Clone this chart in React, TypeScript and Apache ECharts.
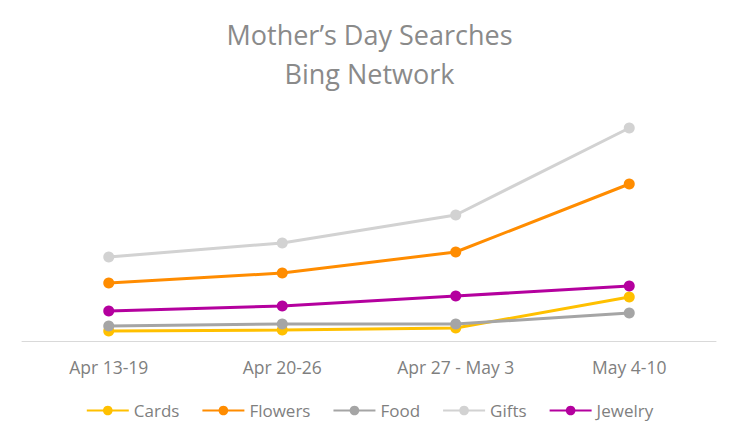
import { useEffect, useRef } from "react";
import * as echarts from "echarts";

const weeks = ["Apr 13-19", "Apr 20-26", "Apr 27 - May 3", "May 4-10"];
const cards = [10, 11, 13, 44];
const flowers = [58, 68, 89, 157];
const food = [15, 17, 17, 28];
const gifts = [84, 98, 126, 213];
const jewelry = [30, 35, 45, 55];

const seriesDefs = [
  { name: "Cards", data: cards, color: "#ffc000" },
  { name: "Flowers", data: flowers, color: "#ff8c00" },
  { name: "Food", data: food, color: "#a5a5a5" },
  { name: "Gifts", data: gifts, color: "#d2d2d2" },
  { name: "Jewelry", data: jewelry, color: "#b4009e" },
];

const FONT = "'Open Sans', 'Noto Sans', sans-serif";

export default function App() {
  const nodeRef = useRef<HTMLDivElement | null>(null);

  useEffect(() => {
    if (!nodeRef.current) return;
    const chart = echarts.init(nodeRef.current, undefined, { renderer: "svg" });
    chart.setOption({
      animation: false,
      backgroundColor: "#ffffff",
      title: {
        text: "Mother\u2019s Day Searches\nBing Network",
        left: "center",
        top: 10,
        textStyle: {
          fontFamily: FONT,
          fontSize: 27,
          fontWeight: "normal",
          color: "#8a8a8a",
          lineHeight: 39,
        },
      },
      grid: { left: 22, right: 23, top: 91, bottom: 102 },
      legend: {
        bottom: 19,
        left: "center",
        itemWidth: 42,
        itemHeight: 12,
        itemGap: 22,
        textStyle: { fontFamily: FONT, fontSize: 17, color: "#7f7f7f" },
        data: seriesDefs.map((s) => s.name),
      },
      xAxis: {
        type: "category",
        data: weeks,
        boundaryGap: true,
        axisLine: { lineStyle: { color: "#d9d9d9", width: 1 } },
        axisTick: { show: false },
        axisLabel: {
          fontFamily: FONT,
          fontSize: 17.5,
          color: "#7f7f7f",
          margin: 17,
        },
      },
      yAxis: {
        type: "value",
        min: 0,
        max: 250,
        show: false,
        splitLine: { show: false },
      },
      series: seriesDefs.map((s) => ({
        name: s.name,
        type: "line",
        data: s.data,
        symbol: "circle",
        symbolSize: 11,
        lineStyle: { color: s.color, width: 3 },
        itemStyle: { color: s.color },
      })),
    });
    return () => chart.dispose();
  }, []);

  return (
    <div
      ref={nodeRef}
      style={{ position: "absolute", left: 0, top: 0, width: 739, height: 443 }}
    />
  );
}
